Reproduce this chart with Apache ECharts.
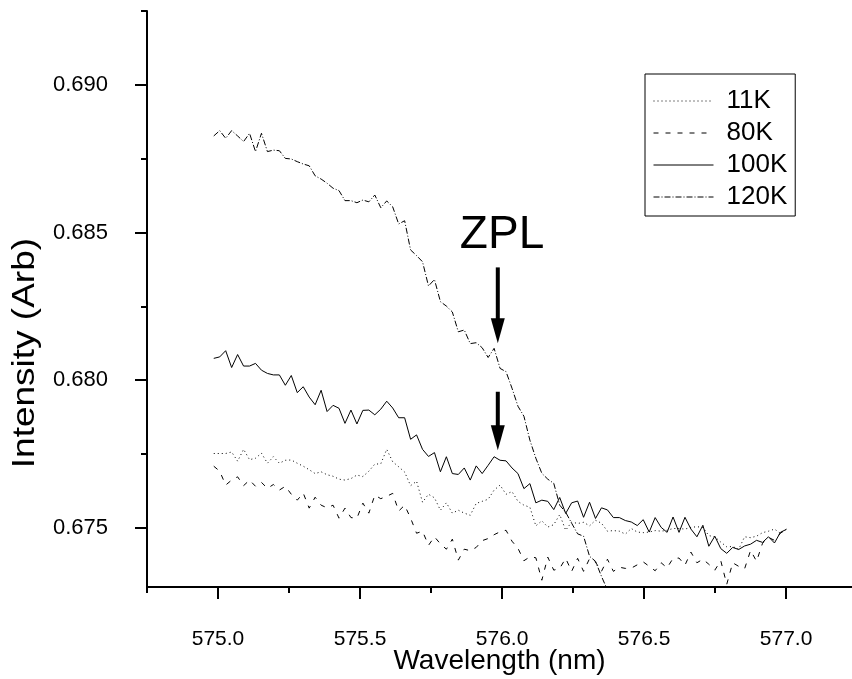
<!DOCTYPE html>
<html>
<head>
<meta charset="utf-8">
<script src="https://cdn.jsdelivr.net/npm/echarts@6/dist/echarts.min.js"></script>
<style>html,body{margin:0;padding:0;background:#fff}#c{width:852px;height:679px}</style>
</head>
<body>
<div id="c"></div>
<script>
const wavelength = [574.985,575.006,575.027,575.048,575.069,575.090,575.111,575.132,575.153,575.174,
575.195,575.216,575.237,575.258,575.279,575.300,575.321,575.342,575.363,575.384,
575.405,575.426,575.447,575.468,575.489,575.510,575.531,575.552,575.573,575.594,
575.615,575.636,575.657,575.678,575.699,575.720,575.741,575.762,575.783,575.804,
575.825,575.846,575.867,575.888,575.909,575.930,575.951,575.972,575.993,576.014,
576.035,576.056,576.077,576.098,576.119,576.140,576.161,576.182,576.203,576.224,
576.245,576.266,576.287,576.308,576.329,576.350,576.371,576.392,576.413,576.434,
576.455,576.476,576.497,576.518,576.539,576.560,576.581,576.602,576.623,576.644,
576.665,576.686,576.707,576.728,576.749,576.770,576.791,576.812,576.833,576.854,
576.875,576.896,576.917,576.938,576.959,576.980,577.001];

const int11K = [0.67752,0.67752,0.67752,0.67757,0.67726,0.67766,0.67731,0.67736,0.67753,0.67719,
0.67741,0.67719,0.67729,0.67730,0.67719,0.67709,0.67697,0.67684,0.67690,0.67680,
0.67675,0.67665,0.67662,0.67667,0.67679,0.67674,0.67692,0.67716,0.67717,0.67766,
0.67724,0.67707,0.67689,0.67643,0.67658,0.67587,0.67614,0.67602,0.67560,0.67585,
0.67550,0.67560,0.67550,0.67543,0.67583,0.67590,0.67597,0.67628,0.67645,0.67614,
0.67623,0.67590,0.67577,0.67570,0.67507,0.67524,0.67503,0.67511,0.67545,0.67492,
0.67520,0.67515,0.67519,0.67507,0.67526,0.67516,0.67489,0.67491,0.67489,0.67479,
0.67498,0.67486,0.67484,0.67486,0.67491,0.67489,0.67492,0.67498,0.67498,0.67496,
0.67502,0.67504,0.67502,0.67474,0.67470,0.67452,0.67436,0.67437,0.67428,0.67470,
0.67467,0.67472,0.67484,0.67489,0.67496,0.67482,0.67496];

const int80K = [0.67709,0.67692,0.67645,0.67662,0.67673,0.67643,0.67662,0.67641,0.67654,0.67634,
0.67647,0.67628,0.67641,0.67614,0.67594,0.67618,0.67567,0.67604,0.67577,0.67568,
0.67577,0.67533,0.67567,0.67535,0.67533,0.67584,0.67550,0.67611,0.67599,0.67607,
0.67617,0.67557,0.67577,0.67533,0.67482,0.67489,0.67441,0.67470,0.67446,0.67428,
0.67462,0.67391,0.67428,0.67423,0.67434,0.67457,0.67464,0.67477,0.67487,0.67492,
0.67455,0.67431,0.67389,0.67402,0.67399,0.67323,0.67401,0.67357,0.67363,0.67397,
0.67353,0.67397,0.67353,0.67396,0.67384,0.67353,0.67394,0.67353,0.67367,0.67363,
0.67364,0.67375,0.67385,0.67370,0.67355,0.67382,0.67365,0.67397,0.67398,0.67374,
0.67418,0.67382,0.67394,0.67377,0.67357,0.67389,0.67309,0.67382,0.67370,0.67362,
0.67424,0.67387,0.67448,0.67468,0.67458,0.67482,0.67496];

const int100K = [0.68074,0.68079,0.68100,0.68043,0.68087,0.68048,0.68048,0.68057,0.68034,0.68023,
0.68018,0.68018,0.67983,0.68016,0.67958,0.67978,0.67943,0.67917,0.67966,0.67894,
0.67915,0.67905,0.67854,0.67899,0.67852,0.67898,0.67899,0.67883,0.67902,0.67929,
0.67906,0.67873,0.67873,0.67800,0.67815,0.67766,0.67742,0.67755,0.67690,0.67741,
0.67684,0.67681,0.67703,0.67662,0.67710,0.67684,0.67712,0.67741,0.67729,0.67727,
0.67703,0.67684,0.67633,0.67650,0.67585,0.67594,0.67590,0.67562,0.67603,0.67549,
0.67585,0.67591,0.67536,0.67587,0.67532,0.67568,0.67561,0.67535,0.67535,0.67525,
0.67520,0.67508,0.67528,0.67486,0.67535,0.67502,0.67485,0.67537,0.67485,0.67536,
0.67496,0.67470,0.67509,0.67438,0.67472,0.67430,0.67414,0.67434,0.67427,0.67439,
0.67445,0.67458,0.67451,0.67470,0.67449,0.67485,0.67495];

const int120K = [0.68827,0.68845,0.68819,0.68845,0.68827,0.68808,0.68836,0.68774,0.68836,0.68774,
0.68779,0.68777,0.68751,0.68749,0.68740,0.68732,0.68726,0.68692,0.68681,0.68667,
0.68650,0.68642,0.68608,0.68608,0.68601,0.68610,0.68604,0.68627,0.68584,0.68607,
0.68587,0.68529,0.68540,0.68441,0.68422,0.68401,0.68319,0.68341,0.68266,0.68251,
0.68231,0.68164,0.68170,0.68124,0.68127,0.68110,0.68077,0.68108,0.68040,0.68029,
0.67973,0.67912,0.67878,0.67797,0.67736,0.67685,0.67665,0.67651,0.67577,0.67553,
0.67516,0.67480,0.67472,0.67404,0.67387,0.67336,0.67290,0.67250,null,null,
null,null,null,null,null,null,null,null,null,null,
null,null,null,null,null,null,null,null,null,null,
null,null,null,null,null,null,null];

const seriesNames = ['11K', '80K', '100K', '120K'];
const xMajorTicks = [575.0, 575.5, 576.0, 576.5, 577.0];
const xMinorTicks = [574.75, 575.25, 575.75, 576.25, 576.75];
const yMajorTicks = [0.675, 0.680, 0.685, 0.690];
const yMinorTicks = [0.6775, 0.6825, 0.6875, 0.6925];

// annotation anchors in data space
const zplText = { label: 'ZPL', x: 576.0, y: 0.68413 };
const zplArrows = [
  { x: 575.985, from: 0.68382, to: 0.68125 },
  { x: 575.985, from: 0.67961, to: 0.67763 }
];
const yTitle = { label: 'Intensity (Arb)', y: 0.68092 };

const FONT = 'Arial, "Liberation Sans", sans-serif';
const lineTypes = [[1, 3], [5, 7], 'solid', [6, 2, 1, 2]];
const seriesData = [int11K, int80K, int100K, int120K];

const chart = echarts.init(document.getElementById('c'), null, { renderer: 'canvas' });

const axisCommon = {
  type: 'value',
  splitLine: { show: false },
  axisLine: { show: true, lineStyle: { color: '#000', width: 2 } },
};

const option = {
  animation: false,
  backgroundColor: '#fff',
  grid: { left: 147, top: 11, right: 0, bottom: 92, containLabel: false, outerBoundsMode: 'none' },
  legend: {
    orient: 'vertical',
    left: 645, top: 74,
    padding: [14, 8, 6, 8],
    itemGap: 6,
    itemWidth: 60, itemHeight: 12,
    borderColor: '#000', borderWidth: 1,
    itemStyle: { opacity: 0 },
    lineStyle: { color: '#000', width: 1 },
    textStyle: { fontFamily: FONT, fontSize: 26, color: '#000', padding: [0, 0, 0, 8] },
    data: seriesNames
  },
  xAxis: [
    Object.assign({}, axisCommon, {
      min: 574.75, max: 577.232, position: 'bottom',
      axisTick: { show: true, customValues: xMajorTicks, length: 12, lineStyle: { color: '#000', width: 2 } },
      axisLabel: { customValues: xMajorTicks, formatter: v => v.toFixed(1), margin: 42,
        fontFamily: FONT, fontSize: 21, color: '#000' },
      name: 'Wavelength (nm)', nameLocation: 'middle', nameGap: 60, nameMoveOverlap: false,
      nameTextStyle: { fontFamily: FONT, fontSize: 28, color: '#000' }
    }),
    Object.assign({}, axisCommon, {
      min: 574.75, max: 577.232, position: 'bottom',
      axisLine: { show: false },
      axisTick: { show: true, customValues: xMinorTicks, length: 6, lineStyle: { color: '#000', width: 2 } },
      axisLabel: { show: false }
    })
  ],
  yAxis: [
    Object.assign({}, axisCommon, {
      min: 0.673, max: 0.6925, position: 'left',
      axisTick: { show: true, customValues: yMajorTicks, length: 12, lineStyle: { color: '#000', width: 2 } },
      axisLabel: { customValues: yMajorTicks, formatter: v => v.toFixed(3), margin: 39,
        fontFamily: FONT, fontSize: 22, color: '#000' }
    }),
    Object.assign({}, axisCommon, {
      min: 0.673, max: 0.6925, position: 'left',
      axisLine: { show: false },
      axisTick: { show: true, customValues: yMinorTicks, length: 6, lineStyle: { color: '#000', width: 2 } },
      axisLabel: { show: false }
    })
  ],
  series: seriesNames.map((name, k) => ({
    name: name,
    type: 'line',
    xAxisIndex: 0, yAxisIndex: 0,
    data: wavelength.map((w, i) => [w, seriesData[k][i]]),
    showSymbol: false, symbol: 'none',
    clip: true,
    connectNulls: false,
    color: '#000',
    lineStyle: { color: '#000', width: 1, type: lineTypes[k] },
    emphasis: { disabled: true }
  }))
};

chart.setOption(option);

function px(x, y) { return chart.convertToPixel({ xAxisIndex: 0, yAxisIndex: 0 }, [x, y]); }

const graphics = [];
const t = px(zplText.x, zplText.y);
graphics.push({
  type: 'text', x: t[0], y: t[1],
  style: { text: zplText.label, font: '46px ' + FONT, fill: '#000', textAlign: 'center', textVerticalAlign: 'bottom' }
});
const yt = px(574.75, yTitle.y);
graphics.push({
  type: 'text', x: 25, y: yt[1], rotation: Math.PI / 2, scaleY: 0.85,
  style: { text: yTitle.label, font: '37px ' + FONT, fill: '#000', textAlign: 'center', textVerticalAlign: 'middle' }
});
zplArrows.forEach(a => {
  const p0 = px(a.x, a.from), p1 = px(a.x, a.to);
  const headLen = 25, headHalf = 7;
  graphics.push({
    type: 'line',
    shape: { x1: p0[0], y1: p0[1], x2: p1[0], y2: p1[1] - headLen + 2 },
    style: { stroke: '#000', lineWidth: 4 }
  });
  graphics.push({
    type: 'polygon',
    shape: { points: [[p1[0] - headHalf, p1[1] - headLen], [p1[0] + headHalf, p1[1] - headLen], [p1[0], p1[1]]] },
    style: { fill: '#000' }
  });
});
chart.setOption({ graphic: graphics });
</script>
</body>
</html>
